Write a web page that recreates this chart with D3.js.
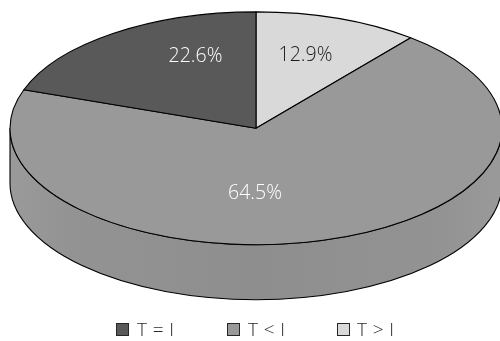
<!DOCTYPE html>
<html><head><meta charset="utf-8">
<style>html,body{margin:0;padding:0;background:#fff}svg{display:block;filter:grayscale(1)}text{font-family:"Open Sans",sans-serif}</style>
<script src="https://cdnjs.cloudflare.com/ajax/libs/d3/7.8.5/d3.min.js"></script>
</head><body><div id="c"></div>
<script>
const categories = ["T > I", "T < I", "T = I"];
const values = [12.9, 64.5, 22.6];
const valueLabels = ["12.9%", "64.5%", "22.6%"];
const legendOrder = ["T = I", "T < I", "T > I"];

const colors = {"T = I":"#595959","T < I":"#999999","T > I":"#d9d9d9"};
const W=500,H=341,cx=256,cy=128.3,rx=246,ry=116.4,depth=55,persp=0.825;
const labelPos = [[305.5,53],[255,191.5],[195.5,54]];
const legendX = [[116,137],[227,248],[337,357]];

const svg=d3.select("#c").append("svg").attr("width",W).attr("height",H);
const defs=svg.append("defs");
const grad=defs.append("linearGradient").attr("id","side");
[[0,"#9a9a9a"],[0.12,"#939393"],[0.5,"#8e8e8e"],[0.88,"#939393"],[1,"#9a9a9a"]].forEach(([o,c])=>grad.append("stop").attr("offset",o).attr("stop-color",c));

// projective foreshortening of the tilted disc
const warp=a=>{const w=a>Math.PI?a-2*Math.PI:a;return 2*Math.atan(persp*Math.tan(w/2));};
const pt=a=>{const t=warp(a);return [cx+rx*Math.sin(t),cy-ry*Math.cos(t)];};
const pie=d3.pie().sort(null).value(d=>d);
const arcs=pie(values);

// wall
svg.append("path")
 .attr("d",`M${cx-rx},${cy} A${rx},${ry} 0 0 0 ${cx+rx},${cy} L${cx+rx},${cy+depth} A${rx},${ry} 0 0 1 ${cx-rx},${cy+depth} Z`)
 .attr("fill","url(#side)").attr("stroke","#000").attr("stroke-width",1.1);

// top slices
svg.selectAll("path.s").data(arcs).join("path").attr("class","s")
 .attr("d",d=>{
   const p0=pt(d.startAngle),p1=pt(d.endAngle);
   const ta=warp(d.startAngle),tb=warp(d.endAngle);
   let sweep=tb-ta; if(sweep<=0) sweep+=2*Math.PI;
   return `M${cx},${cy} L${p0} A${rx},${ry} 0 ${sweep>Math.PI?1:0} 1 ${p1} Z`;
 })
 .attr("fill",(d,i)=>colors[categories[i]])
 .attr("stroke","#000").attr("stroke-width",1.1).attr("stroke-linejoin","round");

// value labels
svg.selectAll("text.v").data(valueLabels).join("text").attr("class","v")
 .attr("x",(d,i)=>labelPos[i][0]).attr("y",(d,i)=>labelPos[i][1])
 .attr("text-anchor","middle").attr("dominant-baseline","central")
 .attr("font-size",19.5).style("font-weight",300).attr("fill",(d,i)=>i==0?"#1a1a1a":"#ffffff").text(d=>d);

// legend
const lg=svg.selectAll("g.l").data(legendOrder).join("g").attr("class","l");
lg.append("rect").attr("x",(d,i)=>legendX[i][0]+.5).attr("y",323.5).attr("width",12).attr("height",12)
 .attr("fill",d=>colors[d]).attr("stroke","#262626").attr("stroke-width",1);
lg.append("text").attr("x",(d,i)=>legendX[i][1]).attr("y",336)
 .attr("font-size",19).attr("fill","#2a2a2a").style("letter-spacing","0.4px").style("font-weight",300).text(d=>d);
</script></body></html>
